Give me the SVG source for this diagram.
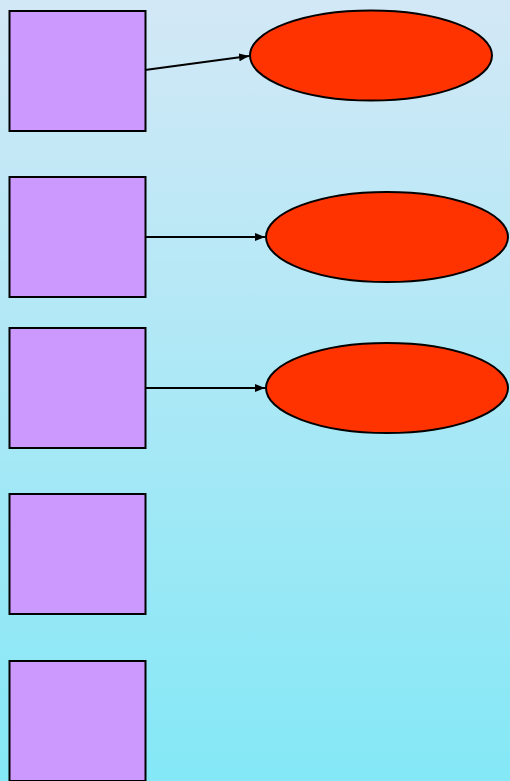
<svg xmlns="http://www.w3.org/2000/svg" width="510" height="781" viewBox="0 0 510 781">
<defs>
<linearGradient id="bg" x1="0" y1="0" x2="0" y2="1">
<stop offset="0" stop-color="#d3e8f6"/>
<stop offset="1" stop-color="#84e8f6"/>
</linearGradient>
<marker id="ah" markerWidth="10" markerHeight="8" refX="10" refY="4" orient="auto" markerUnits="userSpaceOnUse">
<path d="M0,0 L10,4 L0,8 Z" fill="#000"/>
</marker>
<style>
.box{fill:#cc99ff;stroke:#000;stroke-width:2}
.ell{fill:#ff3300;stroke:#000;stroke-width:2}
.edge{stroke:#000;stroke-width:2;fill:none;marker-end:url(#ah)}
</style>
</defs>
<rect x="0" y="0" width="510" height="781" fill="url(#bg)"/>
<g id="connectors">
<line class="edge" x1="145" y1="70" x2="249" y2="56"/>
<line class="edge" x1="145" y1="237" x2="265" y2="237"/>
<line class="edge" x1="145" y1="388" x2="265" y2="388"/>
</g>
<g id="box1"><rect class="box" x="9.5" y="11" width="136" height="120"/></g>
<g id="box2"><rect class="box" x="9.5" y="177" width="136" height="120"/></g>
<g id="box3"><rect class="box" x="9.5" y="328" width="136" height="120"/></g>
<g id="box4"><rect class="box" x="9.5" y="494" width="136" height="120"/></g>
<g id="box5"><rect class="box" x="9.5" y="661" width="136" height="120"/></g>
<g id="ellipse1"><ellipse class="ell" cx="371" cy="55.5" rx="121" ry="45"/></g>
<g id="ellipse2"><ellipse class="ell" cx="387" cy="237" rx="121" ry="45"/></g>
<g id="ellipse3"><ellipse class="ell" cx="387" cy="388" rx="121" ry="45"/></g>
</svg>
